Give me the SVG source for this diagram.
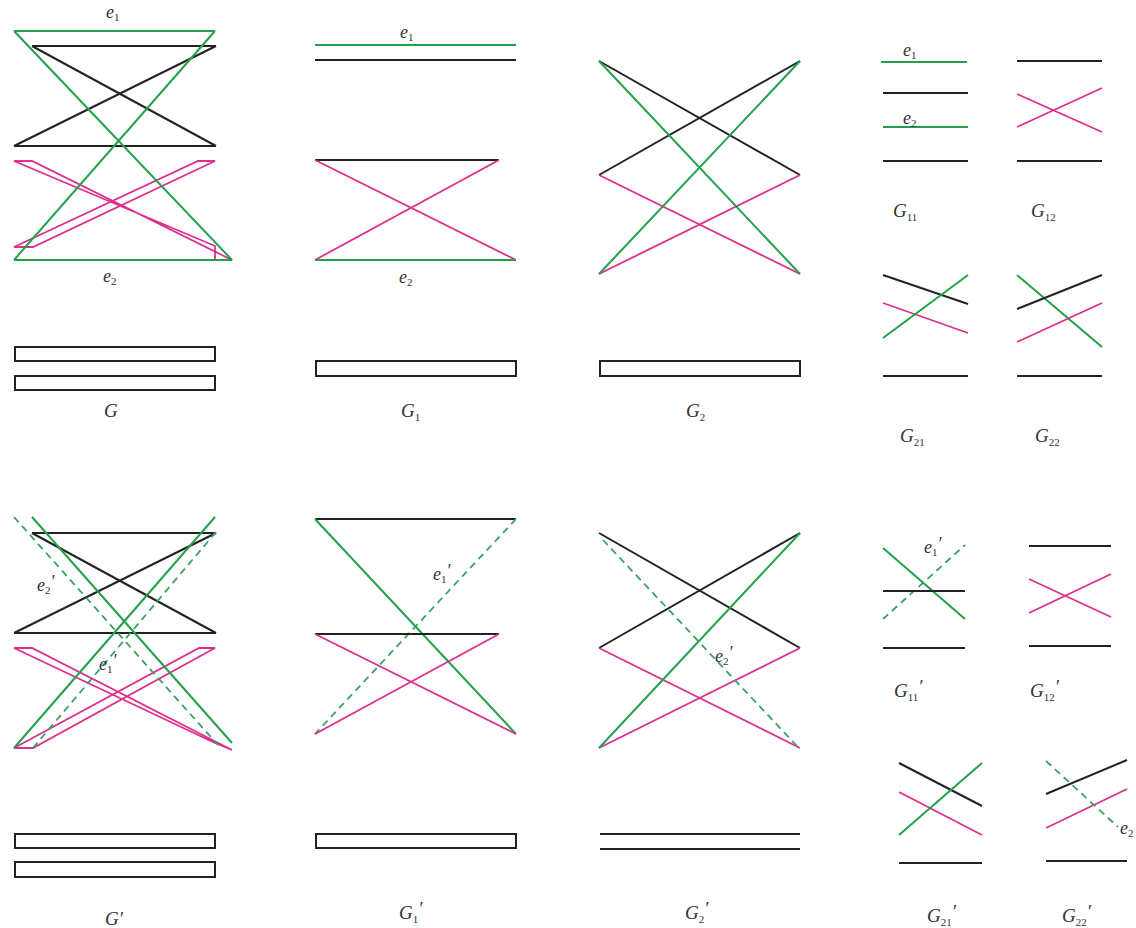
<svg xmlns="http://www.w3.org/2000/svg" width="1136" height="928" viewBox="0 0 1136 928">
<style>
.k{stroke:#222;stroke-width:2;fill:none}
.g{stroke:#22a04a;stroke-width:2;fill:none}
.gd{stroke:#3aa06a;stroke-width:1.8;fill:none;stroke-dasharray:7 5}
.m{stroke:#dd2f8c;stroke-width:1.8;fill:none}
.r{stroke:#222;stroke-width:2;fill:#fff}
.lbl{font-family:"Liberation Serif",serif;font-style:italic;font-size:19px;fill:#333}
.sl{font-family:"Liberation Serif",serif;font-style:italic;font-size:18px;fill:#333}
.sub{font-style:normal;font-size:11px}
</style>
<rect width="1136" height="928" fill="#fff"/>

<g id="G">
<line class="k" x1="32" y1="46" x2="216" y2="46"/>
<line class="k" x1="14" y1="146" x2="216" y2="146"/>
<line class="k" x1="32" y1="46" x2="216" y2="146"/>
<line class="k" x1="216" y1="46" x2="14" y2="146"/>
<polygon class="m" points="14,161 32,161 232,260 215,260 215,246"/>
<polygon class="m" points="198,161 215,161 33,247 14,247"/>
<line class="g" x1="14" y1="31" x2="215" y2="31"/>
<line class="g" x1="14" y1="260" x2="232" y2="260"/>
<line class="g" x1="14" y1="31" x2="232" y2="260"/>
<line class="g" x1="215" y1="31" x2="14" y2="260"/>
<text class="sl" x="106" y="18">e<tspan class="sub" dy="3">1</tspan></text>
<text class="sl" x="103" y="282">e<tspan class="sub" dy="3">2</tspan></text>
<rect class="r" x="15" y="347" width="200" height="14"/>
<rect class="r" x="15" y="376" width="200" height="14"/>
<text class="lbl" x="104" y="417">G</text>
</g>

<g id="G1">
<line class="g" x1="315" y1="45" x2="516" y2="45"/>
<line class="k" x1="315" y1="60" x2="516" y2="60"/>
<line class="k" x1="315" y1="160" x2="499" y2="160"/>
<line class="m" x1="315" y1="160" x2="516" y2="260"/>
<line class="m" x1="499" y1="160" x2="315" y2="260"/>
<line class="g" x1="315" y1="260" x2="516" y2="260"/>
<text class="sl" x="400" y="38">e<tspan class="sub" dy="3">1</tspan></text>
<text class="sl" x="399" y="283">e<tspan class="sub" dy="3">2</tspan></text>
<rect class="r" x="316" y="361" width="200" height="15"/>
<text class="lbl" x="401" y="417">G<tspan class="sub" dy="4">1</tspan></text>
</g>

<g id="G2">
<line class="k" x1="599" y1="61" x2="800" y2="175"/>
<line class="k" x1="800" y1="61" x2="599" y2="175"/>
<line class="m" x1="599" y1="175" x2="800" y2="274"/>
<line class="m" x1="800" y1="175" x2="599" y2="274"/>
<line class="g" x1="599" y1="61" x2="800" y2="274"/>
<line class="g" x1="800" y1="61" x2="599" y2="274"/>
<rect class="r" x="600" y="361" width="200" height="15"/>
<text class="lbl" x="686" y="417">G<tspan class="sub" dy="4">2</tspan></text>
</g>

<g id="G11">
<line class="g" x1="881" y1="62" x2="967" y2="62"/>
<line class="k" x1="883" y1="93" x2="968" y2="93"/>
<line class="g" x1="883" y1="127" x2="968" y2="127"/>
<line class="k" x1="883" y1="161" x2="968" y2="161"/>
<text class="sl" x="903" y="56">e<tspan class="sub" dy="3">1</tspan></text>
<text class="sl" x="903" y="124">e<tspan class="sub" dy="3">2</tspan></text>
<text class="lbl" x="893" y="217">G<tspan class="sub" dy="4">11</tspan></text>
</g>

<g id="G12">
<line class="k" x1="1017" y1="61" x2="1102" y2="61"/>
<line class="m" x1="1017" y1="127" x2="1102" y2="88"/>
<line class="m" x1="1017" y1="94" x2="1102" y2="132"/>
<line class="k" x1="1017" y1="161" x2="1102" y2="161"/>
<text class="lbl" x="1031" y="217">G<tspan class="sub" dy="4">12</tspan></text>
</g>

<g id="G21">
<line class="k" x1="883" y1="275" x2="968" y2="304"/>
<line class="m" x1="883" y1="303" x2="968" y2="333"/>
<line class="g" x1="883" y1="338" x2="968" y2="275"/>
<line class="k" x1="883" y1="376" x2="968" y2="376"/>
<text class="lbl" x="900" y="442">G<tspan class="sub" dy="4">21</tspan></text>
</g>

<g id="G22">
<line class="g" x1="1017" y1="275" x2="1102" y2="347"/>
<line class="k" x1="1017" y1="309" x2="1102" y2="275"/>
<line class="m" x1="1017" y1="342" x2="1102" y2="303"/>
<line class="k" x1="1017" y1="376" x2="1102" y2="376"/>
<text class="lbl" x="1035" y="442">G<tspan class="sub" dy="4">22</tspan></text>
</g>

<g id="Gp">
<line class="k" x1="32" y1="533" x2="216" y2="533"/>
<line class="k" x1="14" y1="633" x2="216" y2="633"/>
<line class="k" x1="32" y1="533" x2="216" y2="633"/>
<line class="k" x1="216" y1="533" x2="14" y2="633"/>
<polygon class="m" points="14,648 32,648 232,750 215,743"/>
<polygon class="m" points="199,648 215,648 33,748 14,748"/>
<line class="g" x1="32" y1="517" x2="232" y2="743"/>
<line class="g" x1="215" y1="517" x2="14" y2="748"/>
<line class="gd" x1="14" y1="517" x2="218" y2="745"/>
<line class="gd" x1="33" y1="748" x2="216" y2="532"/>
<text class="sl" x="37" y="591">e<tspan class="sub" dy="3">2</tspan><tspan dy="-6">′</tspan></text>
<text class="sl" x="99" y="670">e<tspan class="sub" dy="3">1</tspan><tspan dy="-6">′</tspan></text>
<rect class="r" x="15" y="834" width="200" height="14"/>
<rect class="r" x="15" y="862" width="200" height="15"/>
<text class="lbl" x="105" y="925">G′</text>
</g>

<g id="G1p">
<line class="k" x1="315" y1="519" x2="516" y2="519"/>
<line class="g" x1="315" y1="519" x2="516" y2="734"/>
<line class="gd" x1="516" y1="519" x2="315" y2="734"/>
<line class="k" x1="315" y1="634" x2="499" y2="634"/>
<line class="m" x1="315" y1="634" x2="516" y2="734"/>
<line class="m" x1="499" y1="634" x2="315" y2="734"/>
<text class="sl" x="433" y="580">e<tspan class="sub" dy="3">1</tspan><tspan dy="-6">′</tspan></text>
<rect class="r" x="316" y="834" width="200" height="14"/>
<text class="lbl" x="399" y="919">G<tspan class="sub" dy="4">1</tspan><tspan dy="-8">′</tspan></text>
</g>

<g id="G2p">
<line class="k" x1="599" y1="533" x2="800" y2="648"/>
<line class="k" x1="800" y1="533" x2="599" y2="648"/>
<line class="m" x1="599" y1="648" x2="800" y2="748"/>
<line class="m" x1="800" y1="648" x2="599" y2="748"/>
<line class="g" x1="599" y1="748" x2="800" y2="533"/>
<line class="gd" x1="603" y1="540" x2="797" y2="746"/>
<text class="sl" x="715" y="662">e<tspan class="sub" dy="3">2</tspan><tspan dy="-6">′</tspan></text>
<line class="k" x1="600" y1="834" x2="800" y2="834"/>
<line class="k" x1="600" y1="849" x2="800" y2="849"/>
<text class="lbl" x="685" y="919">G<tspan class="sub" dy="4">2</tspan><tspan dy="-8">′</tspan></text>
</g>

<g id="G11p">
<line class="g" x1="883" y1="548" x2="965" y2="619"/>
<line class="gd" x1="883" y1="619" x2="965" y2="545"/>
<line class="k" x1="883" y1="591" x2="965" y2="591"/>
<line class="k" x1="883" y1="648" x2="965" y2="648"/>
<text class="sl" x="924" y="553">e<tspan class="sub" dy="3">1</tspan><tspan dy="-6">′</tspan></text>
<text class="lbl" x="894" y="697">G<tspan class="sub" dy="4">11</tspan><tspan dy="-8">′</tspan></text>
</g>

<g id="G12p">
<line class="k" x1="1029" y1="546" x2="1111" y2="546"/>
<line class="m" x1="1029" y1="613" x2="1111" y2="574"/>
<line class="m" x1="1029" y1="579" x2="1111" y2="617"/>
<line class="k" x1="1029" y1="646" x2="1111" y2="646"/>
<text class="lbl" x="1030" y="697">G<tspan class="sub" dy="4">12</tspan><tspan dy="-8">′</tspan></text>
</g>

<g id="G21p">
<line class="k" x1="899" y1="763" x2="982" y2="806"/>
<line class="m" x1="899" y1="792" x2="982" y2="835"/>
<line class="g" x1="899" y1="835" x2="982" y2="763"/>
<line class="k" x1="899" y1="863" x2="982" y2="863"/>
<text class="lbl" x="927" y="922">G<tspan class="sub" dy="4">21</tspan><tspan dy="-8">′</tspan></text>
</g>

<g id="G22p">
<line class="k" x1="1046" y1="794" x2="1127" y2="760"/>
<line class="m" x1="1046" y1="828" x2="1127" y2="789"/>
<line class="gd" x1="1046" y1="761" x2="1118" y2="827"/>
<line class="k" x1="1046" y1="861" x2="1127" y2="861"/>
<text class="sl" x="1120" y="834">e<tspan class="sub" dy="3">2</tspan></text>
<text class="lbl" x="1062" y="922">G<tspan class="sub" dy="4">22</tspan><tspan dy="-8">′</tspan></text>
</g>
</svg>
